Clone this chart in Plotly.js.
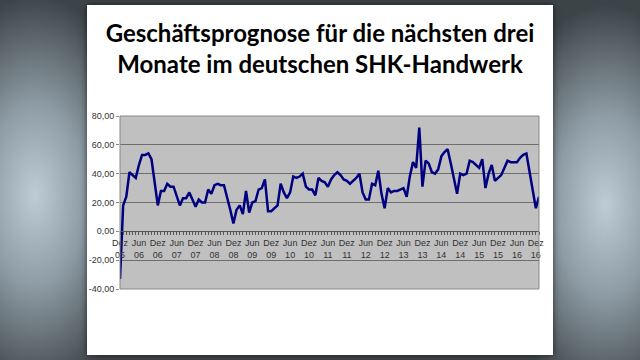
<!DOCTYPE html>
<html>
<head>
<meta charset="utf-8">
<script src="https://cdn.plot.ly/plotly-3.0.1.min.js"></script>
<style>
  html, body { margin: 0; padding: 0; }
  body {
    width: 640px; height: 360px; overflow: hidden; position: relative;
    background:
      radial-gradient(ellipse 110px 200px at 35px 195px, #bdccd5 0%, #8e9ca5 45%, rgba(60,67,72,0) 100%),
      radial-gradient(ellipse 110px 200px at 605px 205px, #bdccd5 0%, #8e9ca5 45%, rgba(60,67,72,0) 100%),
      #3d4448;
  }
  #slide {
    position: absolute; left: 87px; top: 5px; width: 466px; height: 350px;
    background: #ffffff; box-shadow: 0 0 6px rgba(0,0,0,0.6);
  }
  #chart { width: 466px; height: 350px; }
</style>
</head>
<body>
<div id="slide"><div id="chart"></div></div>
<script>
// Month categories (Dez 05 .. Jan 17)
const months = [
  "Dez 05",
  "Jan 06","Feb 06","Mär 06","Apr 06","Mai 06","Jun 06","Jul 06","Aug 06","Sep 06","Okt 06","Nov 06","Dez 06",
  "Jan 07","Feb 07","Mär 07","Apr 07","Mai 07","Jun 07","Jul 07","Aug 07","Sep 07","Okt 07","Nov 07","Dez 07",
  "Jan 08","Feb 08","Mär 08","Apr 08","Mai 08","Jun 08","Jul 08","Aug 08","Sep 08","Okt 08","Nov 08","Dez 08",
  "Jan 09","Feb 09","Mär 09","Apr 09","Mai 09","Jun 09","Jul 09","Aug 09","Sep 09","Okt 09","Nov 09","Dez 09",
  "Jan 10","Feb 10","Mär 10","Apr 10","Mai 10","Jun 10","Jul 10","Aug 10","Sep 10","Okt 10","Nov 10","Dez 10",
  "Jan 11","Feb 11","Mär 11","Apr 11","Mai 11","Jun 11","Jul 11","Aug 11","Sep 11","Okt 11","Nov 11","Dez 11",
  "Jan 12","Feb 12","Mär 12","Apr 12","Mai 12","Jun 12","Jul 12","Aug 12","Sep 12","Okt 12","Nov 12","Dez 12",
  "Jan 13","Feb 13","Mär 13","Apr 13","Mai 13","Jun 13","Jul 13","Aug 13","Sep 13","Okt 13","Nov 13","Dez 13",
  "Jan 14","Feb 14","Mär 14","Apr 14","Mai 14","Jun 14","Jul 14","Aug 14","Sep 14","Okt 14","Nov 14","Dez 14",
  "Jan 15","Feb 15","Mär 15","Apr 15","Mai 15","Jun 15","Jul 15","Aug 15","Sep 15","Okt 15","Nov 15","Dez 15",
  "Jan 16","Feb 16","Mär 16","Apr 16","Mai 16","Jun 16","Jul 16","Aug 16","Sep 16","Okt 16","Nov 16","Dez 16",
  "Jan 17"
];

// Geschäftsprognose (Saldo, %)
const prognose = [
  -33,
  18, 24, 41, 39, 37, 46, 53, 53, 54, 50, 34, 18,
  28, 28, 33, 31, 31, 24, 18, 23, 23, 27, 22, 17,
  22, 20, 20, 29, 26, 32, 33, 32, 32, 24, 15, 5.5,
  15, 18, 12, 28, 13, 20, 21, 29, 30, 36, 14, 14,
  16, 18, 33, 27, 23, 27, 38, 37, 38, 40, 31, 29,
  29, 25, 37, 35, 34, 31, 36, 39, 41, 39, 36, 35,
  33, 35, 37, 40, 27, 22, 22, 33, 32, 42, 26, 16,
  30, 27, 28, 28, 29, 30, 24, 38, 48, 44, 72, 31,
  49, 47, 41, 40, 43, 52, 55, 57, 47, 36, 26, 40,
  39, 40, 49, 48, 46, 44, 50, 30, 40, 46, 35, 37,
  39, 44, 49, 48, 48, 48, 51, 53, 54, 41, 28, 16,
  24
];

// Y-axis tick values and labels
const yTickVals = [-40, -20, 0, 20, 40, 60, 80];
const yTickText = ["-40,00", "-20,00", "0,00", "20,00", "40,00", "60,00", "80,00"];

const titleText = "Geschäftsprognose für die nächsten drei<br>Monate im deutschen SHK-Handwerk";

const xIdx = months.map((m, i) => i);
const xTickVals = [];
const xTickText = [];
months.forEach((m, i) => {
  if (m.startsWith("Jun") || m.startsWith("Dez")) {
    xTickVals.push(i);
    xTickText.push(m.replace(" ", "<br>"));
  }
});

const trace = {
  x: xIdx,
  y: prognose,
  text: months,
  type: 'scatter',
  mode: 'lines',
  line: { color: '#000080', width: 2.5 },
  hoverinfo: 'text+y'
};

const layout = {
  width: 466, height: 350,
  margin: { l: 33, r: 14, t: 111, b: 66 },
  paper_bgcolor: '#ffffff',
  plot_bgcolor: '#c0c0c0',
  showlegend: false,
  title: {
    text: titleText,
    font: { family: 'Lato, "Open Sans", sans-serif', size: 24, color: '#000000', weight: 'bold' },
    x: 0.5, xanchor: 'center',
    y: 0.895, yanchor: 'middle', yref: 'container'
  },
  xaxis: {
    type: 'linear',
    range: [0, months.length - 1],
    anchor: 'free',
    position: 1 / 3,
    showline: true, linecolor: '#555555', linewidth: 1,
    showgrid: false, zeroline: false,
    tickmode: 'array', tickvals: xTickVals, ticktext: xTickText,
    ticks: 'outside', ticklen: 3, tickcolor: '#555555',
    tickfont: { family: '"Liberation Sans", Arial, sans-serif', size: 9, color: '#333333' },
    minor: { ticks: 'outside', dtick: 1, tick0: 0, ticklen: 3, tickcolor: '#555555', showgrid: false }
  },
  yaxis: {
    range: [-40, 80],
    tickmode: 'array', tickvals: yTickVals, ticktext: yTickText,
    showgrid: true, gridcolor: '#6e6e6e', gridwidth: 1,
    zeroline: false, showline: false,
    ticks: 'outside', ticklen: 3, tickcolor: '#888888',
    tickfont: { family: '"Liberation Sans", Arial, sans-serif', size: 9, color: '#333333' }
  },
  shapes: [{
    type: 'rect', xref: 'paper', yref: 'paper', x0: 0, x1: 1, y0: 0, y1: 1,
    line: { color: '#888888', width: 1 }, fillcolor: 'rgba(0,0,0,0)', layer: 'above'
  }]
};

Plotly.newPlot('chart', [trace], layout, { displayModeBar: false, staticPlot: true });
</script>
</body>
</html>
